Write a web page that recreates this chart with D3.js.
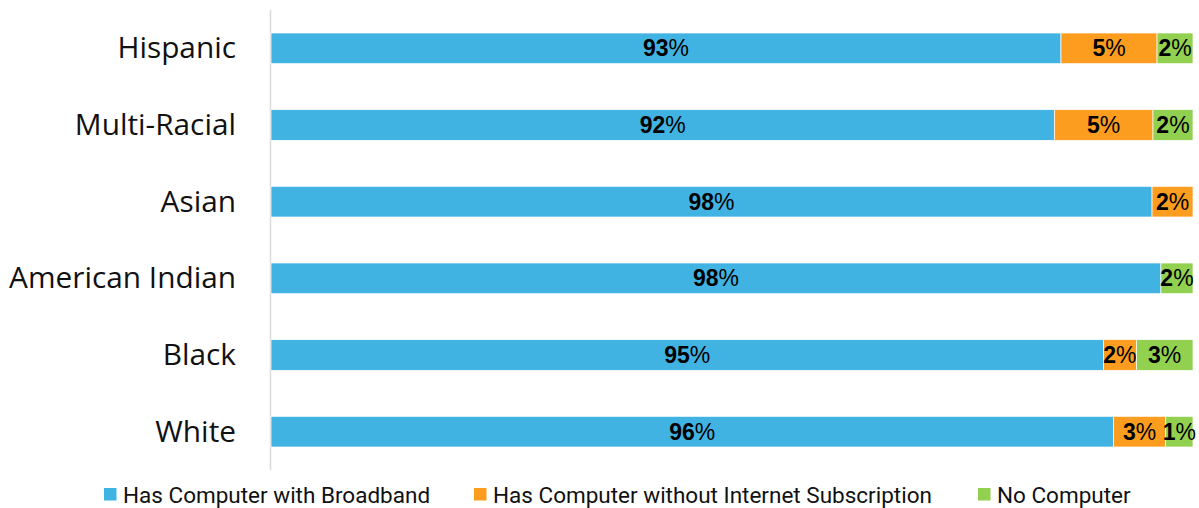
<!DOCTYPE html>
<html>
<head>
<meta charset="utf-8">
<script src="https://cdn.jsdelivr.net/npm/d3@7"></script>
<style>
  html, body { margin: 0; padding: 0; background: #fff; }
  svg { display: block; }
</style>
</head>
<body>
<svg id="chart" width="1199" height="508"></svg>
<script>
const categories = ["Hispanic", "Multi-Racial", "Asian", "American Indian", "Black", "White"];
const seriesNames = ["Has Computer with Broadband", "Has Computer without Internet Subscription", "No Computer"];
const broadband   = [92.84, 92.48, 97.78, 98.26, 95.14, 95.68];
const noInternet  = [5.21, 5.35, 2.22, 0, 1.79, 2.84];
const noComputer  = [1.95, 2.17, 0, 1.74, 3.07, 1.48];
const colors = ["#41b3e3", "#fc9d1f", "#92d050"];

const svg = d3.select("#chart");
const x = d3.scaleLinear().domain([50, 100]).range([271, 1193]);
const y = d3.scaleBand().domain(categories).range([10, 470]).paddingInner(0.6).paddingOuter(0.3);
const xMin = x.domain()[0];

const rows = categories.map((c, i) => ({ cat: c, v: [broadband[i], noInternet[i], noComputer[i]] }));

// axis line
svg.append("line")
  .attr("x1", 270.5).attr("x2", 270.5).attr("y1", 10).attr("y2", 470)
  .attr("stroke", "#d9d9d9").attr("stroke-width", 1.5);

// segments
rows.forEach(r => {
  let start = 0;
  r.v.forEach((val, k) => {
    if (val > 0) {
      const s = Math.max(start, xMin), e = start + val;
      svg.append("rect")
        .attr("x", x(s)).attr("width", x(e) - x(s))
        .attr("y", y(r.cat)).attr("height", y.bandwidth())
        .attr("fill", colors[k])
        .attr("stroke", "#ffffff").attr("stroke-width", 0.7);
      const t = svg.append("text")
        .attr("x", (x(s) + x(e)) / 2)
        .attr("y", y(r.cat) + y.bandwidth() / 2 + 8)
        .attr("text-anchor", "middle")
        .attr("font-family", "Liberation Sans, Arial, sans-serif")
        .attr("font-size", 23)
        .attr("fill", "#000");
      t.append("tspan").attr("font-weight", "bold").text(Math.round(val));
      t.append("tspan").attr("font-weight", "normal").text("%");
    }
    start += val;
  });
});

// category labels
svg.selectAll("text.cat").data(categories).enter().append("text")
  .attr("class", "cat")
  .attr("x", 236)
  .attr("y", d => y(d) + y.bandwidth() / 2 + 10)
  .attr("text-anchor", "end")
  .attr("font-family", "Open Sans, Noto Sans, sans-serif")
  .attr("font-size", 29.8)
  .attr("fill", "#111")
  .text(d => d);

// legend
const legendX = [104, 474, 978];
seriesNames.forEach((n, k) => {
  svg.append("rect").attr("x", legendX[k]).attr("y", 488).attr("width", 12.5).attr("height", 12.5).attr("fill", colors[k]);
  svg.append("text").attr("x", legendX[k] + 19).attr("y", 502.5)
    .attr("font-family", "Roboto, sans-serif").attr("font-size", 22.5).attr("fill", "#111")
    .text(n);
});
</script>
</body>
</html>
